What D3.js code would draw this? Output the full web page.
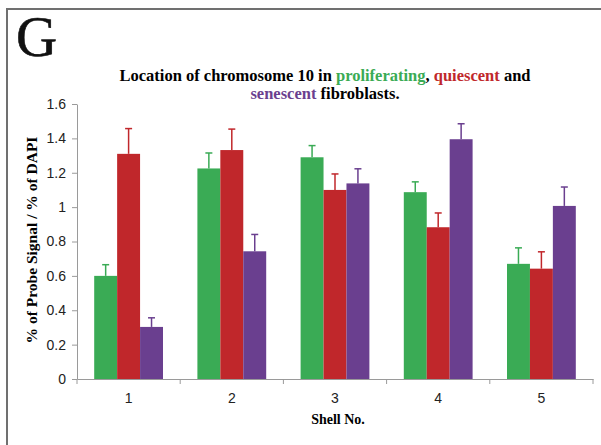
<!DOCTYPE html>
<html>
<head>
<meta charset="utf-8">
<script src="https://cdn.jsdelivr.net/npm/d3@7"></script>
<style>
  body { margin: 0; background: #fff; }
  svg { display: block; }
</style>
</head>
<body>
<div id="chart"></div>
<script>
// data
const shells = ["1", "2", "3", "4", "5"];
const groups = ["proliferating", "quiescent", "senescent"];
const proliferating = [0.60, 1.225, 1.29, 1.087, 0.67];
const quiescent = [1.31, 1.332, 1.10, 0.883, 0.642];
const senescent = [0.303, 0.743, 1.138, 1.395, 1.007];
const errProliferating = [0.065, 0.09, 0.068, 0.06, 0.093];
const errQuiescent = [0.147, 0.122, 0.093, 0.083, 0.098];
const errSenescent = [0.053, 0.098, 0.085, 0.09, 0.11];
const yTicks = [0, 0.2, 0.4, 0.6, 0.8, 1, 1.2, 1.4, 1.6];

const colors = { proliferating: "#3aab55", quiescent: "#c0272b", senescent: "#6a3f8f" };

const W = 601, H = 445;
const margin = { top: 104, right: 8, bottom: 66, left: 77 },
  width = 593 - margin.left,
  height = 379 - margin.top;

const svg = d3.select("#chart").append("svg")
  .attr("width", W).attr("height", H);

// frame of the figure panel
svg.append("path")
  .attr("d", `M7,${H} L7,9 L${W},9`)
  .attr("fill", "none").attr("stroke", "#707070").attr("stroke-width", 2);

svg.append("text")
  .attr("x", 16).attr("y", 56)
  .attr("font-family", "Liberation Serif, Times New Roman, serif")
  .attr("font-size", 57)
  .attr("fill", "#111")
  .attr("stroke", "#111").attr("stroke-width", 0.6)
  .text("G");

// title with coloured words
const title = svg.append("text")
  .attr("text-anchor", "middle")
  .attr("font-family", "Liberation Serif, Times New Roman, serif")
  .attr("font-weight", "bold")
  .attr("font-size", 16.5);
const t1 = title.append("tspan").attr("x", 325).attr("y", 81);
t1.append("tspan").text("Location of chromosome 10 in ");
t1.append("tspan").attr("fill", colors.proliferating).text("proliferating");
t1.append("tspan").text(", ");
t1.append("tspan").attr("fill", colors.quiescent).text("quiescent");
t1.append("tspan").text(" and");
const t2 = title.append("tspan").attr("x", 325).attr("y", 99);
t2.append("tspan").attr("fill", colors.senescent).text("senescent");
t2.append("tspan").text(" fibroblasts.");

const g = svg.append("g").attr("transform", `translate(${margin.left},${margin.top})`);

const x = d3.scaleBand().domain(shells).range([0, width]).paddingInner(1 / 3).paddingOuter(1 / 6);
const xCat = d3.scaleBand().domain(shells).range([0, width]);
const x1 = d3.scaleBand().domain(groups).range([0, x.bandwidth()]);
const y = d3.scaleLinear().domain([0, 1.6]).range([height, 0]);

const table = shells.map((s, i) => ({
  shell: s,
  values: [
    { key: "proliferating", v: proliferating[i], e: errProliferating[i] },
    { key: "quiescent", v: quiescent[i], e: errQuiescent[i] },
    { key: "senescent", v: senescent[i], e: errSenescent[i] }
  ]
}));

// axes
const yAxis = g.append("g")
  .call(d3.axisLeft(y).tickValues(yTicks).tickSize(5).tickSizeOuter(0).tickFormat(d3.format("")));
const xAxis = g.append("g").attr("transform", `translate(0,${height})`)
  .call(d3.axisBottom(xCat).tickSize(0).tickSizeOuter(0));

// category boundary ticks on the x axis
g.append("g").selectAll("line")
  .data(shells.concat(["end"]))
  .join("line")
  .attr("x1", (d, i) => i < shells.length ? xCat(d) : width)
  .attr("x2", (d, i) => i < shells.length ? xCat(d) : width)
  .attr("y1", height).attr("y2", height + 5)
  .attr("stroke", "#9a9a9a");

[yAxis, xAxis].forEach(a => {
  a.select(".domain").attr("stroke", "#9a9a9a");
  a.selectAll(".tick line").attr("stroke", "#9a9a9a");
  a.selectAll(".tick text")
    .attr("font-family", "Liberation Sans, Arial, sans-serif")
    .attr("font-size", 14).attr("fill", "#222");
});
yAxis.selectAll(".tick text").attr("x", -11);
xAxis.selectAll(".tick text").attr("y", 14);

// bars
const grp = g.selectAll(".grp").data(table).join("g")
  .attr("transform", d => `translate(${x(d.shell)},0)`);

grp.selectAll("rect").data(d => d.values).join("rect")
  .attr("x", d => x1(d.key))
  .attr("y", d => y(d.v))
  .attr("width", x1.bandwidth())
  .attr("height", d => height - y(d.v))
  .attr("fill", d => colors[d.key]);

// error bars (upper only)
grp.selectAll(".err").data(d => d.values).join("line")
  .attr("class", "err")
  .attr("x1", d => x1(d.key) + x1.bandwidth() / 2)
  .attr("x2", d => x1(d.key) + x1.bandwidth() / 2)
  .attr("y1", d => y(d.v))
  .attr("y2", d => y(d.v + d.e))
  .attr("stroke", d => colors[d.key]).attr("stroke-width", 1.5);
grp.selectAll(".cap").data(d => d.values).join("line")
  .attr("class", "cap")
  .attr("x1", d => x1(d.key) + x1.bandwidth() / 2 - 3.5)
  .attr("x2", d => x1(d.key) + x1.bandwidth() / 2 + 3.5)
  .attr("y1", d => y(d.v + d.e))
  .attr("y2", d => y(d.v + d.e))
  .attr("stroke", d => colors[d.key]).attr("stroke-width", 1.5);

// axis titles
svg.append("text")
  .attr("transform", "translate(37,240) rotate(-90)")
  .attr("text-anchor", "middle")
  .attr("font-family", "Liberation Serif, Times New Roman, serif")
  .attr("font-weight", "bold")
  .attr("font-size", 15.5)
  .text("% of Probe Signal / % of DAPI");

svg.append("text")
  .attr("x", 338).attr("y", 424)
  .attr("text-anchor", "middle")
  .attr("font-family", "Liberation Serif, Times New Roman, serif")
  .attr("font-weight", "bold")
  .attr("font-size", 14)
  .text("Shell No.");
</script>
</body>
</html>
